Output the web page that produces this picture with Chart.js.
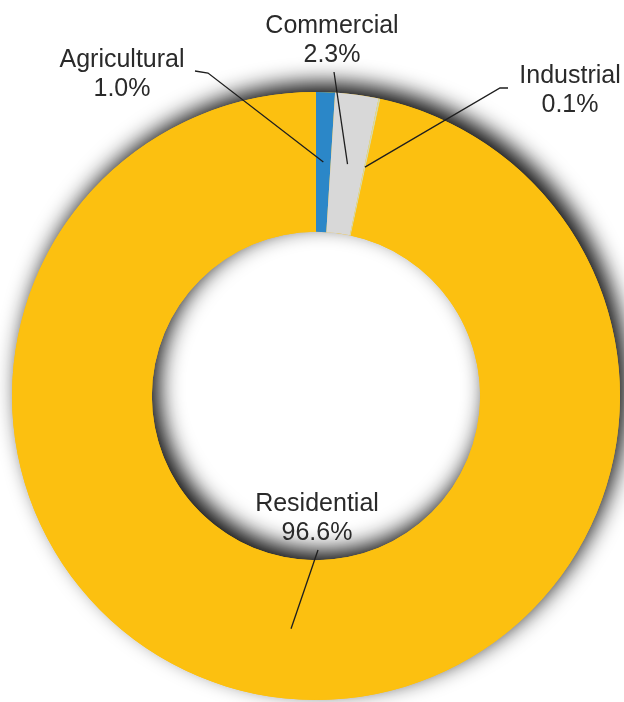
<!DOCTYPE html>
<html>
<head>
<meta charset="utf-8">
<script src="https://cdn.jsdelivr.net/npm/chart.js@4"></script>
<style>
  html, body { margin: 0; padding: 0; background: #fff; }
  #wrap { width: 624px; height: 702px; position: relative; }
</style>
</head>
<body>
<div id="wrap"><canvas id="chart1"></canvas></div>
<script>
const sectors = ['Agricultural', 'Commercial', 'Industrial', 'Residential'];
const shares = [1.0, 2.3, 0.1, 96.6];
const colours = ['#2b87c8', '#d8d8d8', '#d6d9a8', '#fcc010'];

// label text position (centre x, first baseline) and the bends of each leader line
const labelSpots = [
  { x: 122, y: 67, bends: [[195, 71], [208, 73]] },
  { x: 332, y: 33, bends: [[334, 72]] },
  { x: 570, y: 83, bends: [[508, 88], [500, 88]] },
  { x: 317, y: 511, bends: [[318, 550]] }
];

// soft shadow under the whole ring, cast up and to the right
const ringShadow = {
  id: 'ringShadow',
  beforeDatasetsDraw(chart) {
    const arc = chart.getDatasetMeta(0).data[0];
    if (!arc) return;
    const { x, y, outerRadius, innerRadius } = arc.getProps(['x', 'y', 'outerRadius', 'innerRadius'], true);
    const ctx = chart.ctx;
    ctx.save();
    ctx.shadowColor = 'rgba(0,0,0,0.95)';
    ctx.shadowBlur = 22;
    ctx.shadowOffsetX = 7;
    ctx.shadowOffsetY = -9;
    ctx.beginPath();
    ctx.arc(x, y, outerRadius, 0, Math.PI * 2);
    ctx.arc(x, y, innerRadius, 0, Math.PI * 2, true);
    ctx.fillStyle = colours[3];
    ctx.fill();
    ctx.restore();
  }
};

// category names, percentages and leader lines
const calloutLabels = {
  id: 'calloutLabels',
  afterDatasetsDraw(chart) {
    const ctx = chart.ctx;
    const meta = chart.getDatasetMeta(0);
    ctx.save();
    ctx.strokeStyle = '#1e1e1e';
    ctx.lineWidth = 1.3;
    ctx.fillStyle = '#2a2a2a';
    ctx.font = '25px "Liberation Sans", Arial, sans-serif';
    ctx.textAlign = 'center';
    ctx.textBaseline = 'alphabetic';
    meta.data.forEach((arc, i) => {
      const spot = labelSpots[i];
      const end = arc.getCenterPoint(true);
      ctx.beginPath();
      ctx.moveTo(spot.bends[0][0], spot.bends[0][1]);
      spot.bends.slice(1).forEach(p => ctx.lineTo(p[0], p[1]));
      ctx.lineTo(end.x, end.y);
      ctx.stroke();
      ctx.fillText(sectors[i], spot.x, spot.y);
      ctx.fillText(shares[i].toFixed(1) + '%', spot.x, spot.y + 29);
    });
    ctx.restore();
  }
};

const ctx = document.getElementById('chart1').getContext('2d');
const chart = new Chart(ctx, {
  type: 'doughnut',
  data: {
    labels: sectors,
    datasets: [{
      data: shares,
      backgroundColor: colours,
      borderWidth: 0
    }]
  },
  options: {
    responsive: true,
    maintainAspectRatio: false,
    animation: false,
    cutout: '54%',
    layout: { padding: { left: 12, right: 4, top: 92, bottom: 2 } },
    plugins: {
      legend: { display: false },
      tooltip: { enabled: false }
    }
  },
  plugins: [ringShadow, calloutLabels]
});
</script>
</body>
</html>
